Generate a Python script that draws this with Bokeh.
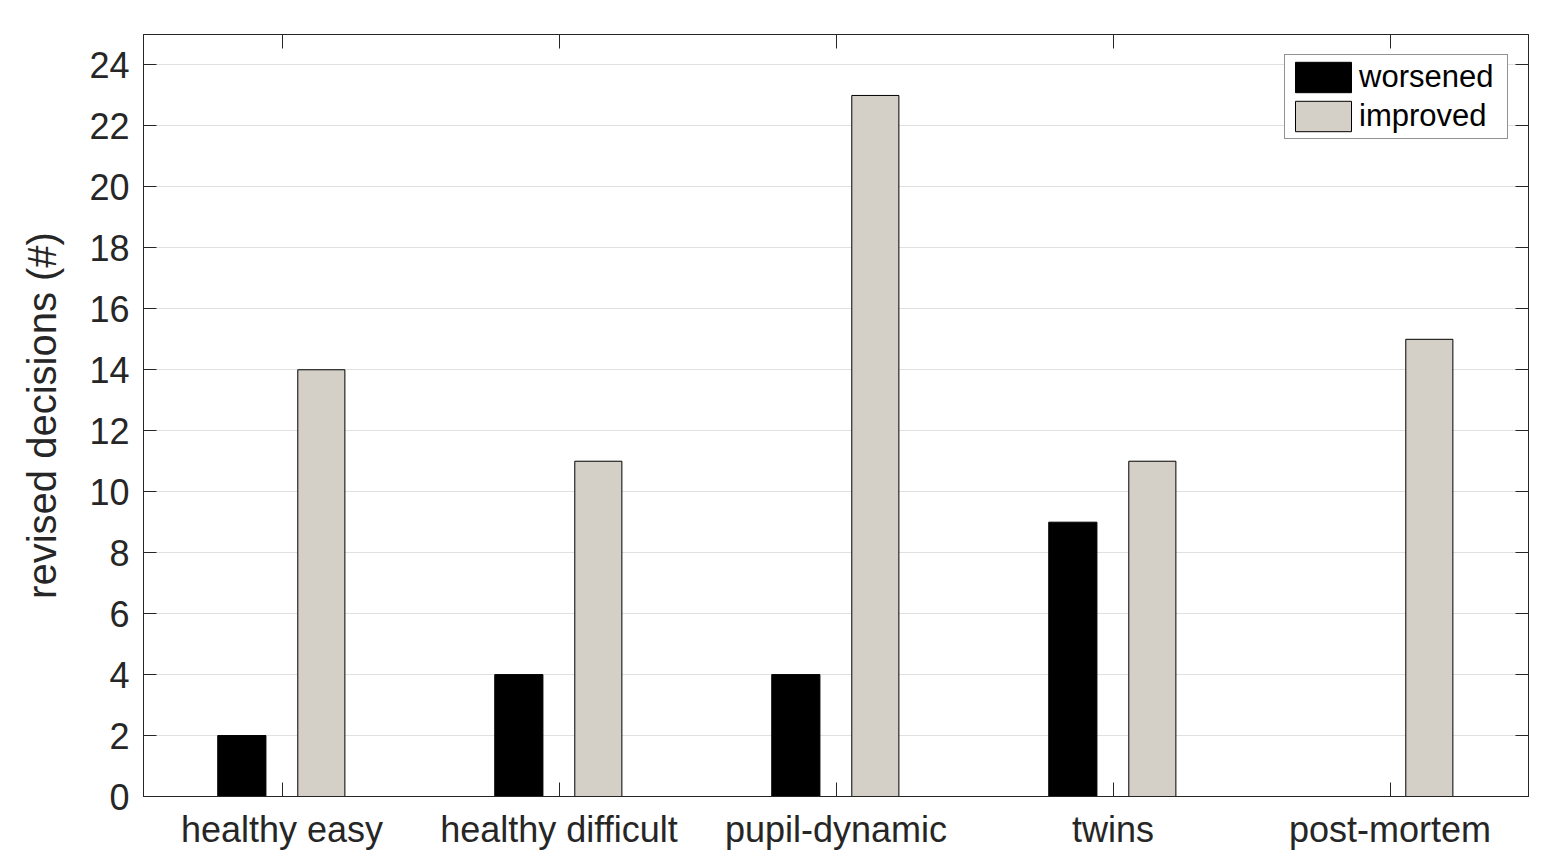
from bokeh.plotting import figure
from bokeh.models import (FactorRange, Range1d, ColumnDataSource, LinearAxis, CategoricalAxis,
                          FixedTicker, Legend, LegendItem, CustomJSTickFormatter)
from bokeh.transform import dodge
from bokeh.embed import file_html
from bokeh.resources import INLINE

categories = ["healthy easy", "healthy difficult", "pupil-dynamic", "twins", "post-mortem"]
worsened = [2, 4, 4, 9, 0]
improved = [14, 11, 23, 11, 15]
y_ticks = list(range(0, 25, 2))
y_label = "revised decisions (#)"

src = ColumnDataSource(dict(cat=categories, worsened=worsened, improved=improved))

FONT = "Liberation Sans"
TXT = "#262626"

p = figure(x_range=FactorRange(*categories, range_padding=0), y_range=Range1d(0, 25),
           width=1558, height=856, frame_width=1385, frame_height=762,
           min_border_left=143, min_border_right=30, min_border_top=34, min_border_bottom=60,
           output_backend="svg", toolbar_location=None)

r1 = p.vbar(x=dodge("cat", -0.145, range=p.x_range), top="worsened", width=0.174, source=src,
            fill_color="black", line_color="black", line_width=1)
r2 = p.vbar(x=dodge("cat", 0.142, range=p.x_range), top="improved", width=0.170, source=src,
            fill_color="#D4D0C8", line_color="black", line_width=1)

p.xgrid.visible = False
p.ygrid.ticker = FixedTicker(ticks=y_ticks)
p.ygrid.grid_line_color = "#E0E0E0"
p.ygrid.grid_line_width = 1

p.outline_line_color = TXT
p.outline_line_width = 1
p.background_fill_color = "white"

for ax in p.yaxis:
    ax.ticker = FixedTicker(ticks=y_ticks)
    ax.axis_label = y_label
    ax.axis_label_text_font = FONT
    ax.axis_label_text_font_size = "40px"
    ax.axis_label_text_font_style = "normal"
    ax.axis_label_text_color = TXT
    ax.axis_label_standoff = 22
    ax.major_label_text_font = FONT
    ax.major_label_text_font_size = "36px"
    ax.major_label_text_color = TXT
    ax.major_label_standoff = 14
    ax.major_tick_in = 13
    ax.major_tick_out = 0
    ax.minor_tick_in = 0
    ax.minor_tick_out = 0
    ax.axis_line_color = TXT
    ax.major_tick_line_color = TXT

for ax in p.xaxis:
    ax.major_label_text_font = FONT
    ax.major_label_text_font_size = "36px"
    ax.major_label_text_color = TXT
    ax.major_label_standoff = 12
    ax.major_tick_in = 14
    ax.major_tick_out = 0
    ax.axis_line_color = TXT
    ax.major_tick_line_color = TXT

ry = LinearAxis(ticker=FixedTicker(ticks=y_ticks),
                major_label_overrides={t: "" for t in y_ticks},
                major_tick_in=13, major_tick_out=0, minor_tick_in=0, minor_tick_out=0,
                axis_line_color=TXT, major_tick_line_color=TXT, major_label_standoff=0)
p.add_layout(ry, "right")
tx = CategoricalAxis(formatter=CustomJSTickFormatter(code="return ''"),
                     major_tick_in=14, major_tick_out=0,
                     axis_line_color=TXT, major_tick_line_color=TXT, major_label_standoff=0)
p.add_layout(tx, "above")

legend = Legend(items=[LegendItem(label="worsened", renderers=[r1]),
                       LegendItem(label="improved", renderers=[r2])],
                location="top_right", margin=20, padding=3, spacing=1,
                glyph_width=70, glyph_height=38, label_width=145,
                label_text_font=FONT, label_text_font_size="31px", label_text_color="black",
                label_standoff=1,
                border_line_color=TXT, border_line_width=1, background_fill_alpha=1)
p.add_layout(legend, "center")

open("out.html", "w").write(file_html(p, INLINE))
